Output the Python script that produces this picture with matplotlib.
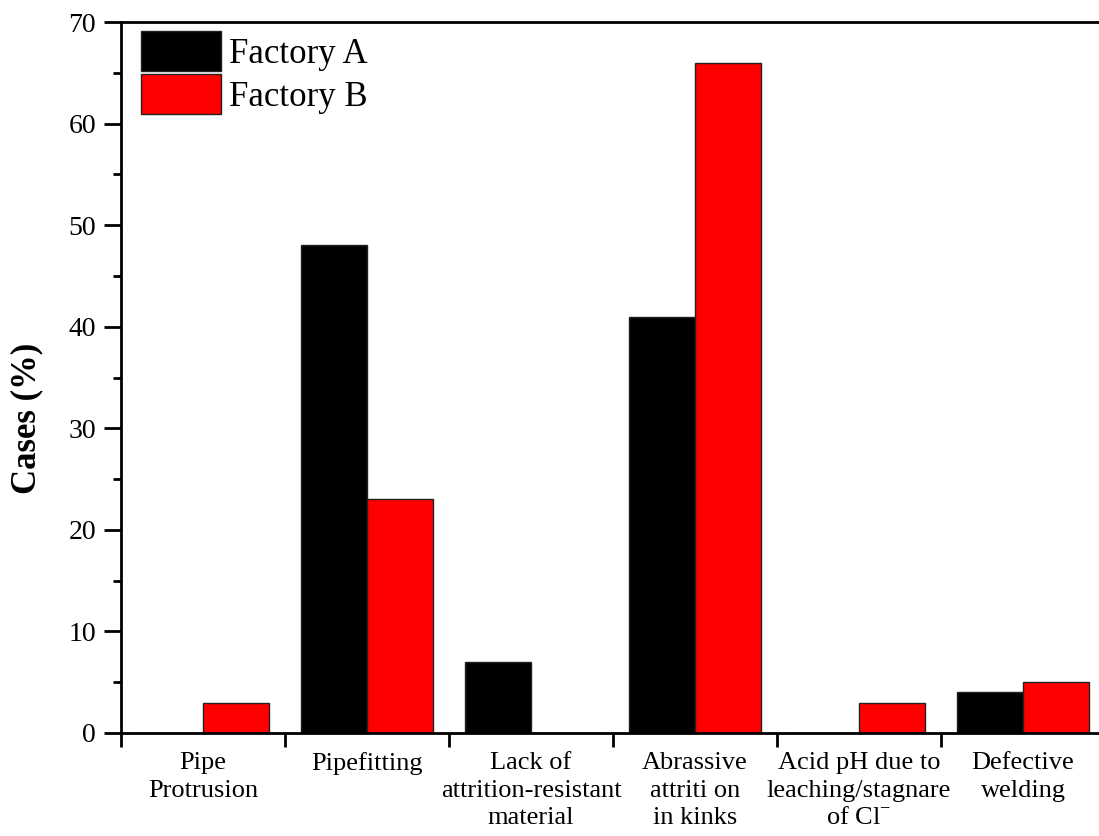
import matplotlib
matplotlib.use("Agg")
import matplotlib.pyplot as plt
import numpy as np

# ── Data ───────────────────────────────────────────────────────────────────────

categories = [
    "Pipe\nProtrusion",
    "Pipefitting",
    "Lack of\nattrition-resistant\nmaterial",
    "Abrassive\nattriti on\nin kinks",
    "Acid pH due to\nleaching/stagnare\nof Cl$^{\\mathregular{-}}$",
    "Defective\nwelding",
]
factory_a = [0, 48, 7, 41, 0, 4]
factory_b = [3, 23, 0, 66, 3, 5]
series_names = ["Factory A", "Factory B"]
y_ticks = [0, 10, 20, 30, 40, 50, 60, 70]

# ── Plot ───────────────────────────────────────────────────────────────────────

plt.rcParams["font.family"] = ["Liberation Serif", "DejaVu Serif"]
plt.rcParams["mathtext.fontset"] = "custom"
plt.rcParams["mathtext.rm"] = "Liberation Serif"

fig = plt.figure(figsize=(10.99, 8.36), dpi=100)
ax = fig.add_axes([121 / 1099, 103 / 836, 984 / 1099, 711 / 836])

x = np.arange(len(categories))
w = 0.4
ax.bar(x - w / 2, factory_a, w, color="black", edgecolor="#222222",
       linewidth=1, label=series_names[0])
ax.bar(x + w / 2, factory_b, w, color="red", edgecolor="#222222",
       linewidth=1, label=series_names[1])

ax.set_xlim(-0.5, len(categories) - 0.5)
ax.set_ylim(0, 70)

ax.set_yticks(y_ticks)
ax.set_yticks(np.arange(5, 70, 10), minor=True)
ax.tick_params(axis="y", which="major", direction="out", length=12, width=2,
               labelsize=20, pad=6)
ax.tick_params(axis="y", which="minor", direction="out", length=6, width=2)

ax.set_xticks(x)
ax.set_xticklabels(categories, fontsize=19, linespacing=1.3)
ax.set_xticks(np.arange(-0.5, len(categories), 1.0), minor=True)
ax.tick_params(axis="x", which="major", length=0, pad=14)
ax.tick_params(axis="x", which="minor", direction="out", length=10, width=2)

for side in ("left", "bottom", "top", "right"):
    ax.spines[side].set_linewidth(2)

ax.set_ylabel("Cases (%)", fontsize=25, fontweight="bold")
ax.yaxis.set_label_coords(-0.079, 0.443)

ax.legend(loc="upper left", bbox_to_anchor=(0.006, 1.007), frameon=False,
          fontsize=25, handlelength=2.3, handleheight=1.4,
          labelspacing=0.09, handletextpad=0.25, borderaxespad=0.1,
          borderpad=0.3)

fig.savefig("out.png", dpi=100)
